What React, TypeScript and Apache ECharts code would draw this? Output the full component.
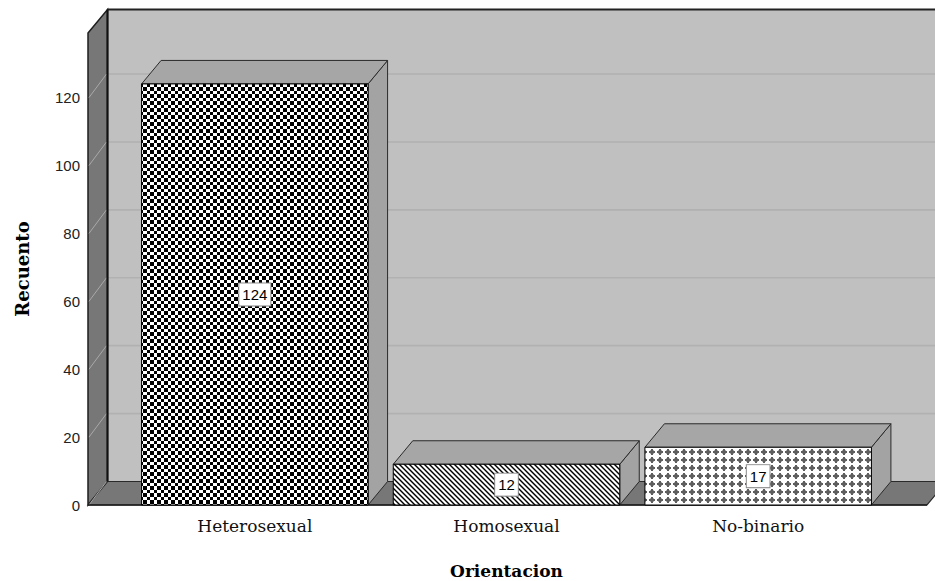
import React, { useEffect, useRef } from 'react';
import * as echarts from 'echarts';

const categories = ['Heterosexual', 'Homosexual', 'No-binario'];
const counts = [124, 12, 17];
const yTicks = [0, 20, 40, 60, 80, 100, 120];
const yMax = 139;
const xTitle = 'Orientacion';
const yTitle = 'Recuento';

const DX = 19.5;
const DY = -23.5;

function makeTile(size: number, draw: (ctx: CanvasRenderingContext2D, s: number) => void) {
  const c = document.createElement('canvas');
  c.width = size;
  c.height = size;
  const ctx = c.getContext('2d')!;
  ctx.fillStyle = '#ffffff';
  ctx.fillRect(0, 0, size, size);
  draw(ctx, size);
  return { image: c.toDataURL(), repeat: 'repeat', imageWidth: size, imageHeight: size } as any;
}

function makePatterns() {
  const checker = makeTile(14, (ctx) => {
    const b = [0, 3, 7, 10, 14];
    ctx.fillStyle = '#000';
    for (let i = 0; i < 4; i++) {
      for (let j = 0; j < 4; j++) {
        if ((i + j) % 2 === 0) ctx.fillRect(b[i], b[j], b[i + 1] - b[i], b[j + 1] - b[j]);
      }
    }
  });
  const hatch = makeTile(5, (ctx, s) => {
    ctx.strokeStyle = '#000';
    ctx.lineWidth = 1.4;
    for (const o of [-s, 0, s]) {
      ctx.beginPath();
      ctx.moveTo(o - 1, -1);
      ctx.lineTo(o + s + 1, s + 1);
      ctx.stroke();
    }
  });
  const cross = makeTile(8, (ctx) => {
    ctx.fillStyle = '#a8a8a8';
    ctx.fillRect(2, 2, 4, 4);
    ctx.fillStyle = '#5e5e5e';
    ctx.fillRect(3, 1, 2, 6);
    ctx.fillRect(1, 3, 6, 2);
  });
  return [checker, hatch, cross];
}

export default function App() {
  const ref = useRef<HTMLDivElement>(null);
  useEffect(() => {
    document.body.style.margin = '0';
    document.body.style.overflow = 'hidden';
    if (!ref.current) return;
    const chart = echarts.init(ref.current, null, { renderer: 'svg' });
    const patterns = makePatterns();

    const option: any = {
      animation: false,
      backgroundColor: '#ffffff',
      grid: {
        left: 129,
        top: 33,
        width: 755,
        height: 472,
        containLabel: false,
        outerBoundsMode: 'none',
      },
      xAxis: {
        type: 'category',
        data: categories,
        axisLine: { show: false },
        axisTick: { show: false },
        splitLine: { show: false },
        axisLabel: {
          margin: 12,
          fontFamily: 'DejaVu Serif',
          fontSize: 17,
          color: '#111',
        },
        name: xTitle,
        nameLocation: 'middle',
        nameGap: 57,
        nameTextStyle: { fontFamily: 'DejaVu Serif', fontWeight: 'bold', fontSize: 17, color: '#000' },
      },
      yAxis: {
        type: 'value',
        min: 0,
        max: yMax,
        interval: 20,
        axisLine: { show: false },
        axisTick: { show: false },
        splitLine: { show: false },
        axisLabel: {
          margin: 49,
          showMaxLabel: false,
          fontFamily: 'Liberation Sans',
          fontSize: 15,
          color: '#222',
          formatter: (v: number) => (yTicks.indexOf(v) >= 0 ? String(v) : ''),
        },
        name: yTitle,
        nameLocation: 'middle',
        nameGap: 98,
        nameRotate: 90,
        nameTextStyle: { fontFamily: 'DejaVu Serif', fontWeight: 'bold', fontSize: 18, color: '#000' },
      },
      series: [
        {
          type: 'custom',
          z: 1,
          silent: true,
          data: [[0, 0]],
          renderItem: (params: any, api: any) => {
            const cs = params.coordSys;
            const L = cs.x - 41;
            const R = cs.x + cs.width + 43;
            const T = cs.y;
            const B = cs.y + cs.height;
            const children: any[] = [];
            children.push({
              type: 'rect',
              shape: { x: L + DX, y: T + DY, width: R - L + 40, height: B - T },
              style: { fill: '#c0c0c0' },
            });
            yTicks.forEach((v) => {
              if (v === 0) return;
              const y = api.coord([0, v])[1];
              children.push({
                type: 'line',
                shape: { x1: L + DX, y1: y + DY, x2: R + DX + 40, y2: y + DY },
                style: { stroke: '#b1b1b1', lineWidth: 1.6 },
              });
            });
            children.push({
              type: 'polygon',
              shape: { points: [[L, T], [L + DX, T + DY], [L + DX, B + DY], [L, B]] },
              style: { fill: '#777777', stroke: '#1e1e1e', lineWidth: 1.5 },
            });
            children.push({
              type: 'polygon',
              shape: { points: [[L, B], [R, B], [R + DX, B + DY], [L + DX, B + DY]] },
              style: { fill: '#777777', stroke: '#2a2a2a', lineWidth: 1.2 },
            });
            yTicks.forEach((v) => {
              const y = api.coord([0, v])[1];
              children.push({
                type: 'line',
                shape: { x1: L + 1, y1: y, x2: L + DX - 1, y2: y + DY },
                style: { stroke: '#a9a9a9', lineWidth: 1 },
              });
            });
            children.push({
              type: 'line',
              shape: { x1: L + DX, y1: T + DY, x2: R + DX + 40, y2: T + DY },
              style: { stroke: '#222', lineWidth: 2 },
            });
            children.push({
              type: 'line',
              shape: { x1: L + DX, y1: T + DY, x2: L + DX, y2: B + DY },
              style: { stroke: '#111', lineWidth: 2 },
            });
            children.push({
              type: 'line',
              shape: { x1: L, y1: B, x2: R, y2: B },
              style: { stroke: '#1a1a1a', lineWidth: 1.5 },
            });
            return { type: 'group', children };
          },
        },
        {
          type: 'custom',
          z: 2,
          data: counts.map((v, i) => [i, v]),
          encode: { x: 0, y: 1 },
          renderItem: (params: any, api: any) => {
            const i = api.value(0);
            const v = api.value(1);
            const top = api.coord([i, v]);
            const bot = api.coord([i, 0]);
            const bw = api.size([1, 0])[0] * 0.9;
            const xl = top[0] - bw / 2;
            const xr = top[0] + bw / 2;
            const yt = top[1];
            const yb = bot[1];
            return {
              type: 'group',
              children: [
                {
                  type: 'polygon',
                  shape: { points: [[xr, yt], [xr + DX, yt + DY], [xr + DX, yb + DY], [xr, yb]] },
                  style: { fill: '#a3a3a3', stroke: '#2a2a2a', lineWidth: 1 },
                },
                {
                  type: 'polygon',
                  shape: { points: [[xl, yt], [xl + DX, yt + DY], [xr + DX, yt + DY], [xr, yt]] },
                  style: { fill: '#a6a6a6', stroke: '#2a2a2a', lineWidth: 1 },
                },
                {
                  type: 'rect',
                  shape: { x: xl, y: yt, width: bw, height: yb - yt },
                  style: { fill: patterns[params.dataIndex], stroke: '#000', lineWidth: 1 },
                  textContent: {
                    style: {
                      text: String(v),
                      fill: '#000',
                      fontFamily: 'Liberation Sans',
                      fontSize: 15,
                      backgroundColor: '#ffffff',
                      borderColor: '#8a8a8a',
                      borderWidth: 1,
                      padding: [4, 3, 3, 3],
                    },
                  },
                  textConfig: { position: 'inside' },
                },
              ],
            };
          },
        },
      ],
    };
    chart.setOption(option);
    return () => chart.dispose();
  }, []);
  return (
    <div
      ref={ref}
      style={{ position: 'absolute', left: 0, top: 0, width: 935, height: 581, overflow: 'hidden' }}
    />
  );
}
